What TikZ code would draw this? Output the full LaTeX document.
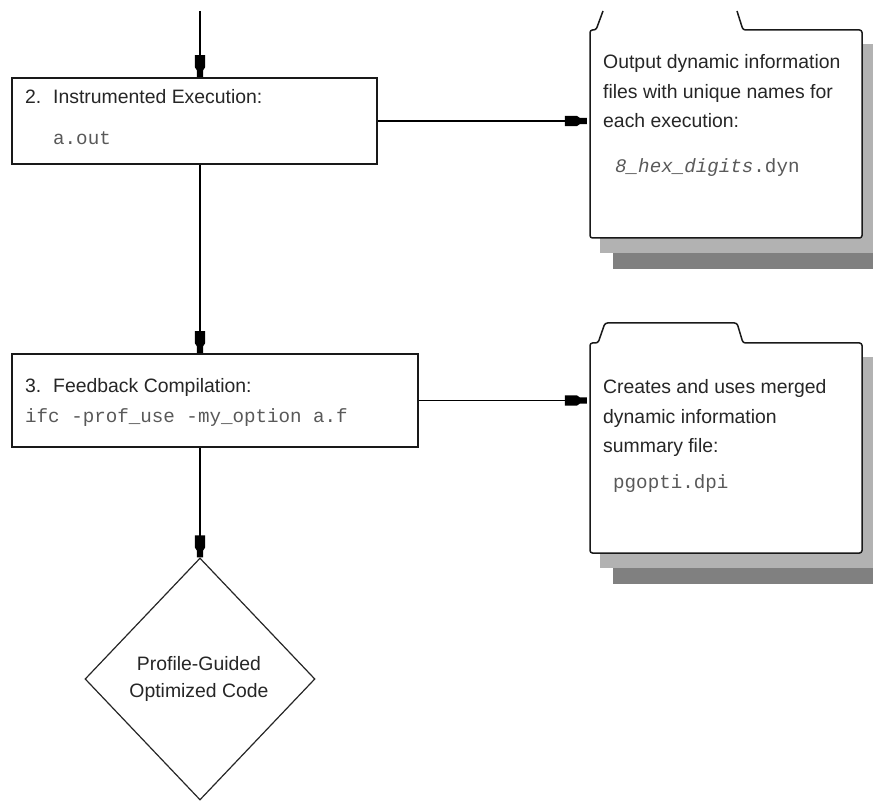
\documentclass[tikz,border=0pt]{standalone}
\usepackage{fontspec}
\setmainfont{Liberation Sans}
\setmonofont{Liberation Mono}
\usetikzlibrary{shapes.geometric,arrows.meta}

\pgfdeclarearrow{
  name = Slug,
  setup code = {
    \pgfarrowssettipend{0pt}
    \pgfarrowssetlineend{-12pt}
    \pgfarrowssetvisualbackend{-22pt}
    \pgfarrowssetbackend{-22pt}
    \pgfarrowshullpoint{-22pt}{5.2pt}
    \pgfarrowshullpoint{-22pt}{-5.2pt}
    \pgfarrowshullpoint{0pt}{3.2pt}
    \pgfarrowshullpoint{0pt}{-3.2pt}
  },
  drawing code = {
    \pgfpathmoveto{\pgfqpoint{-22pt}{5.2pt}}
    \pgfpathlineto{\pgfqpoint{-10pt}{5.2pt}}
    \pgfpathlineto{\pgfqpoint{-7pt}{3.2pt}}
    \pgfpathlineto{\pgfqpoint{0pt}{3.2pt}}
    \pgfpathlineto{\pgfqpoint{0pt}{-3.2pt}}
    \pgfpathlineto{\pgfqpoint{-7pt}{-3.2pt}}
    \pgfpathlineto{\pgfqpoint{-10pt}{-5.2pt}}
    \pgfpathlineto{\pgfqpoint{-22pt}{-5.2pt}}
    \pgfpathclose
    \pgfusepathqfill
  }
}

\begin{document}
\begin{tikzpicture}[x=1pt,y=-1pt,
  box/.style={draw=black!90, line width=1.8pt, fill=white, inner sep=0pt},
  docline/.style={draw=black!90, line width=1.5pt, fill=white, rounded corners=2.5pt},
  holder/.style={inner sep=0pt},
  conn/.style={draw=black, line width=1.6pt, -Slug},
  lab/.style={inner sep=0pt, anchor=base west, text=black!85, font=\fontsize{19.4}{24}\selectfont},
  code/.style={inner sep=0pt, anchor=base west, text=black!65, font=\fontsize{19.2}{24}\selectfont\ttfamily},
  ctr/.style={inner sep=0pt, anchor=base, text=black!85, font=\fontsize{19.4}{24}\selectfont},
  shlight/.style={fill=black!30},
  shdark/.style={fill=black!50},
]
\useasboundingbox (0,0) rectangle (873,802);
\fill[white] (0,0) rectangle (873,802);

% ---------- document 1 ----------
\fill[shlight] (600,44) rectangle (873,253);
\fill[shdark] (613,253) rectangle (873,269);
\draw[docline] (603,11) -- (596,30) -- (590,30) -- (590,238) -- (862,238) -- (862,30) -- (743,30) -- (737,11);
\node[holder, minimum width=272pt, minimum height=208pt] (d1) at (726,134) {};
\node[lab] (d1a) at (603,69) {Output dynamic information};
\node[lab] (d1b) at (603,99) {files with unique names for};
\node[lab] (d1c) at (603,128) {each execution:};
\node[code] (d1d) at (615,173) {\textit{8\_hex\_digits}.dyn};

% ---------- document 2 ----------
\fill[shlight] (600,357) rectangle (873,568);
\fill[shdark] (613,568) rectangle (873,584);
\draw[docline] (670,323) -- (605,323) -- (598,343) -- (590,343) -- (590,553) -- (862,553) -- (862,343) -- (743,343) -- (737,323) -- cycle;
\node[holder, minimum width=272pt, minimum height=210pt] (d2) at (726,448) {};
\node[lab] (d2a) at (603,393) {Creates and uses merged};
\node[lab] (d2b) at (603,423) {dynamic information};
\node[lab] (d2c) at (603,452) {summary file:};
\node[code] (d2d) at (613,488) {pgopti.dpi};

% ---------- process boxes ----------
\node[box, minimum width=365pt, minimum height=86pt] (b2) at (194.5,121) {};
\node[lab] (b2a) at (25,104) {\makebox[28pt][l]{2.}Instrumented Execution:};
\node[code] (b2b) at (53,145) {a.out};

\node[box, minimum width=406pt, minimum height=93pt] (b3) at (215,400.5) {};
\node[lab] (b3a) at (25,392) {\makebox[28pt][l]{3.}Feedback Compilation:};
\node[code] (b3b) at (25,422) {ifc -prof\_use -my\_option a.f};

% ---------- diamond ----------
\node[diamond, draw=black!85, line width=1.2pt, fill=white, inner sep=0pt,
      minimum width=230pt, minimum height=242pt] (dia) at (200,679) {};
\node[ctr] (dia1) at (199,670) {Profile-Guided};
\node[ctr] (dia2) at (199,697) {Optimized Code};

% ---------- connectors ----------
\coordinate (top) at (200,11);
\draw[conn] (top) -- (top |- b2.north);
\draw[conn] (b2.south -| top) -- (b3.north -| top);
\draw[conn] (b3.south -| top) -- (dia.north);
\draw[conn, shorten >=3pt] (b2.east) -- (b2.east -| d1.west);
\draw[conn, shorten >=3pt] (b3.east) -- (b3.east -| d2.west);
\end{tikzpicture}
\end{document}
